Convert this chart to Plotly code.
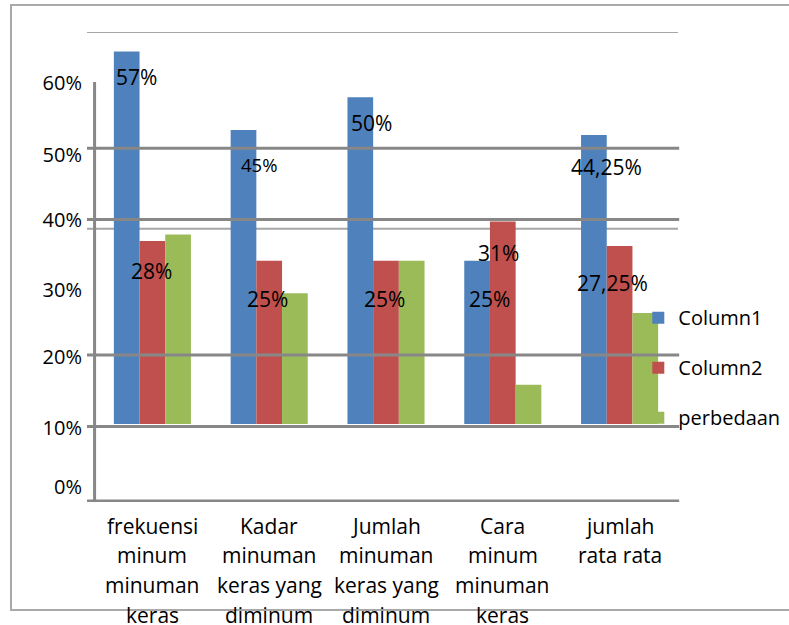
import plotly.graph_objects as go

categories = ["frekuensi<br>minum<br>minuman<br>keras",
              "Kadar<br>minuman<br>keras yang<br>diminum",
              "Jumlah<br>minuman<br>keras yang<br>diminum",
              "Cara<br>minum<br>minuman<br>keras",
              "jumlah<br>rata rata"]
cat_keys = ["c1", "c2", "c3", "c4", "c5"]
column1 = [57, 45, 50, 25, 44.25]
column2 = [28, 25, 25, 31, 27.25]
perbedaan = [29, 20, 25, 6, 17]
column1_labels = ["57%", "45%", "50%", "25%", "44,25%"]
column2_labels = ["28%", "25%", "25%", "31%", "27,25%"]

# y tick labels (as drawn, offset from grid lines in the source picture)
tick_text = ["60%", "50%", "40%", "30%", "20%", "10%", "0%"]
tick_pos = [52.2, 41.2, 31.2, 20.5, 10.25, -0.6, -9.6]
dark_grid = [42.2, 31.3, 10.56, -0.4]
light_grid = [60, 29.9]

YMIN, YMAX = -11.94, 60

colors = ["#4F81BD", "#C0504D", "#9BBB59"]
FONT = "Open Sans"

fig = go.Figure()
for name, vals, col in [("Column1", column1, colors[0]),
                        ("Column2", column2, colors[1]),
                        ("perbedaan", perbedaan, colors[2])]:
    fig.add_trace(go.Bar(x=cat_keys, y=vals, name=name, marker_color=col,
                         marker_line_width=0, legendgroup=name, hoverinfo="skip"))

shapes = []
# outer frame (right side runs off the picture)
shapes.append(dict(type="rect", xref="paper", yref="paper", x0=-0.1421, x1=1.4,
                   y0=-0.2298, y1=1.0574, line=dict(color="#a9a9a9", width=2),
                   layer="above"))
for g in light_grid:
    shapes.append(dict(type="line", xref="paper", yref="y", x0=-0.012, x1=1.0,
                       y0=g, y1=g, line=dict(color="#a6a6a6", width=2), layer="below"))
for g in dark_grid:
    shapes.append(dict(type="line", xref="paper", yref="y", x0=-0.012, x1=1.002,
                       y0=g, y1=g, line=dict(color="#878787", width=3), layer="above"))
# x axis line
shapes.append(dict(type="line", xref="paper", yref="y", x0=-0.012, x1=1.002,
                   y0=YMIN + 0.15, y1=YMIN + 0.15, line=dict(color="#878787", width=3)))
# y axis line
shapes.append(dict(type="line", xref="paper", yref="y", x0=0.001, x1=0.001,
                   y0=52.35, y1=YMIN, line=dict(color="#878787", width=3)))

annotations = []
c1_shift = [(-15.7, 25.7), (-10, 34), (-14.7, 25.4), (-13, 38.3), (-13, 31.6)]
c2_shift = [(-0.7, 30), (-2, 38.3), (-1.7, 38), (-4, 31.6), (-7, 37)]
for i, k in enumerate(cat_keys):
    dx, dy = c1_shift[i]
    annotations.append(dict(x=k, y=column1[i], xref="x", yref="y", text=column1_labels[i],
                            showarrow=False, xshift=dx, yshift=-dy, yanchor="middle",
                            font=dict(family=FONT, size=18.5 if i == 1 else 21, color="#000")))
    dx, dy = c2_shift[i]
    annotations.append(dict(x=k, y=column2[i], xref="x", yref="y", text=column2_labels[i],
                            showarrow=False, xshift=dx, yshift=-dy, yanchor="middle",
                            font=dict(family=FONT, size=21, color="#000")))
    for j, line in enumerate(categories[i].split("<br>")):
        annotations.append(dict(x=k, y=0, xref="x", yref="paper", text=line,
                                showarrow=False, yanchor="middle", yshift=-23.5 - 29.8 * j,
                                font=dict(family=FONT, size=21, color="#000")))

fig.update_layout(
    width=789, height=625,
    margin=dict(l=94, r=111, t=32, b=123, autoexpand=False),
    paper_bgcolor="white", plot_bgcolor="white",
    barmode="group", bargap=0.34, bargroupgap=0,
    font=dict(family=FONT, color="#000"),
    xaxis=dict(showticklabels=False, showgrid=False, zeroline=False, showline=False,
               range=[-0.5, 4.5], fixedrange=True),
    yaxis=dict(range=[YMIN, YMAX], tickvals=tick_pos, ticktext=tick_text,
               showgrid=False, zeroline=False, showline=False, ticks="",
               ticklabelstandoff=11, tickfont=dict(family=FONT, size=20, color="#000")),
    legend=dict(xref="container", yref="container", x=0.809, y=0.523,
                xanchor="left", yanchor="top",
                bgcolor="rgba(0,0,0,0)", font=dict(family=FONT, size=20, color="#000"),
                traceorder="grouped", tracegroupgap=21, itemwidth=30),
    shapes=shapes, annotations=annotations,
)

fig.write_html("out.html")
